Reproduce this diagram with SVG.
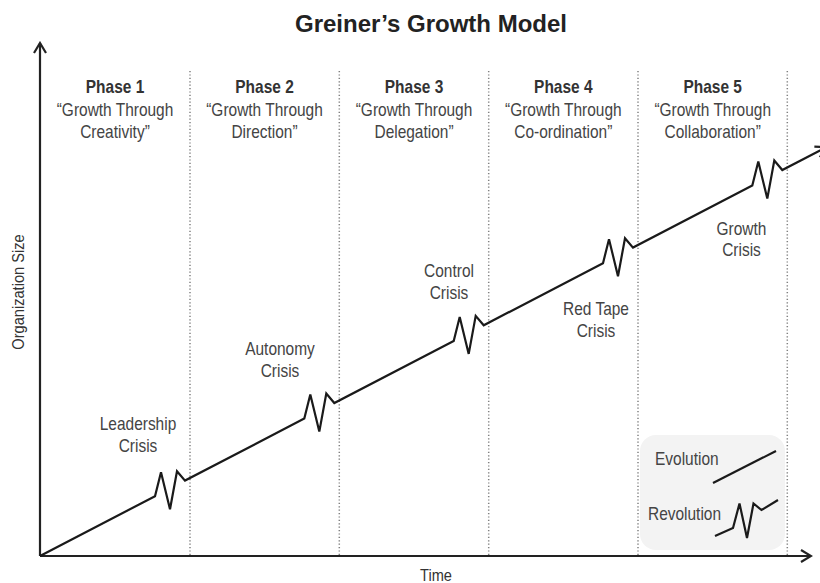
<svg xmlns="http://www.w3.org/2000/svg" width="820" height="583" viewBox="0 0 820 583">
  <defs>
    <style>
      .title { font-family: "Liberation Sans", Arial, sans-serif; font-weight: bold; font-size: 24px; fill: #222; text-anchor: middle; }
      .narrow text { font-family: "Liberation Sans", Arial, sans-serif; }
      .ph { font-weight: bold; font-size: 18px; fill: #333; text-anchor: middle; }
      .desc { font-size: 18px; fill: #444; text-anchor: middle; }
      .lbl { font-size: 18px; fill: #444; text-anchor: middle; }
      .leg { font-size: 18px; fill: #444; }
      .ax { font-size: 17px; fill: #333; text-anchor: middle; }
      .axis { fill: none; stroke: #222; stroke-width: 2.2; }
      .div { fill: none; stroke: #808080; stroke-width: 1.5; stroke-dasharray: 1.2 2.2; }
      .curve { fill: none; stroke: #1a1a1a; stroke-width: 2.2; stroke-linejoin: miter; }
    </style>
    <marker id="chev" viewBox="-12 -7 14 14" markerWidth="14" markerHeight="14" refX="0" refY="0" orient="auto" markerUnits="userSpaceOnUse">
      <path d="M-10,-6 L0,0 L-10,6" fill="none" stroke="#222" stroke-width="2.2"/>
    </marker>
  </defs>
  <rect width="820" height="583" fill="#ffffff"/>

  <text id="title" class="title" x="431" y="32">Greiner’s Growth Model</text>

  <g id="dividers">
    <line class="div" x1="190" y1="71" x2="190" y2="556"/>
    <line class="div" x1="339.3" y1="71" x2="339.3" y2="556"/>
    <line class="div" x1="488.7" y1="71" x2="488.7" y2="556"/>
    <line class="div" x1="638" y1="71" x2="638" y2="556"/>
    <line class="div" x1="787.3" y1="71" x2="787.3" y2="556"/>
  </g>

  <g id="phase1" class="narrow" transform="translate(115,0) scale(0.86,1)">
    <text class="ph" x="0" y="93">Phase 1</text>
    <text class="desc" x="0" y="116">“Growth Through</text>
    <text class="desc" x="0" y="138">Creativity”</text>
  </g>
  <g id="phase2" class="narrow" transform="translate(264.5,0) scale(0.86,1)">
    <text class="ph" x="0" y="93">Phase 2</text>
    <text class="desc" x="0" y="116">“Growth Through</text>
    <text class="desc" x="0" y="138">Direction”</text>
  </g>
  <g id="phase3" class="narrow" transform="translate(414,0) scale(0.86,1)">
    <text class="ph" x="0" y="93">Phase 3</text>
    <text class="desc" x="0" y="116">“Growth Through</text>
    <text class="desc" x="0" y="138">Delegation”</text>
  </g>
  <g id="phase4" class="narrow" transform="translate(563.3,0) scale(0.86,1)">
    <text class="ph" x="0" y="93">Phase 4</text>
    <text class="desc" x="0" y="116">“Growth Through</text>
    <text class="desc" x="0" y="138">Co-ordination”</text>
  </g>
  <g id="phase5" class="narrow" transform="translate(712.7,0) scale(0.86,1)">
    <text class="ph" x="0" y="93">Phase 5</text>
    <text class="desc" x="0" y="116">“Growth Through</text>
    <text class="desc" x="0" y="138">Collaboration”</text>
  </g>

  <g id="legend">
    <rect x="640" y="435" width="145" height="115" rx="16" ry="16" fill="#f3f3f3"/>
    <g class="narrow" transform="translate(655,0) scale(0.86,1)"><text class="leg" x="0" y="465">Evolution</text></g>
    <g class="narrow" transform="translate(648,0) scale(0.86,1)"><text class="leg" x="0" y="520">Revolution</text></g>
    <line class="curve" x1="713" y1="483" x2="776" y2="451"/>
    <polyline class="curve" points="715,536 733,528 739.5,503.5 747,538 753.5,503.5 761.5,510 778,500"/>
  </g>

  <g id="connectors">
    <line class="axis" x1="40" y1="556" x2="40" y2="43" marker-end="url(#chev)"/>
    <line class="axis" x1="40" y1="556" x2="811" y2="556" marker-end="url(#chev)"/>
    <polyline class="curve" points="40,556 155,496.2 161,472.2 170,509.2 177,471.2 185,480.6 304.3,418.6 310.3,394.6 319.3,431.6 326.3,393.6 334.3,403 453.7,340.9 459.7,316.9 468.7,353.9 475.7,315.9 483.7,325.3 603,263.2 609,239.2 618,276.2 625,238.2 633,247.6 752.3,185.6 758.3,161.6 767.3,198.6 774.3,160.6 782.3,170 826,147.3" marker-end="url(#chev)"/>
  </g>

  <g id="crisis-leadership" class="narrow" transform="translate(138,0) scale(0.86,1)">
    <text class="lbl" x="0" y="430">Leadership</text>
    <text class="lbl" x="0" y="452">Crisis</text>
  </g>
  <g id="crisis-autonomy" class="narrow" transform="translate(280,0) scale(0.86,1)">
    <text class="lbl" x="0" y="355">Autonomy</text>
    <text class="lbl" x="0" y="377">Crisis</text>
  </g>
  <g id="crisis-control" class="narrow" transform="translate(449,0) scale(0.86,1)">
    <text class="lbl" x="0" y="277">Control</text>
    <text class="lbl" x="0" y="299">Crisis</text>
  </g>
  <g id="crisis-redtape" class="narrow" transform="translate(596,0) scale(0.86,1)">
    <text class="lbl" x="0" y="315">Red Tape</text>
    <text class="lbl" x="0" y="337">Crisis</text>
  </g>
  <g id="crisis-growth" class="narrow" transform="translate(741.5,0) scale(0.86,1)">
    <text class="lbl" x="0" y="235">Growth</text>
    <text class="lbl" x="0" y="256">Crisis</text>
  </g>

  <g id="axis-labels" class="narrow">
    <g transform="translate(24,292) rotate(-90) scale(0.86,1)"><text class="ax" x="0" y="0">Organization Size</text></g>
    <g transform="translate(436,0) scale(0.86,1)"><text class="ax" x="0" y="581">Time</text></g>
  </g>
</svg>
